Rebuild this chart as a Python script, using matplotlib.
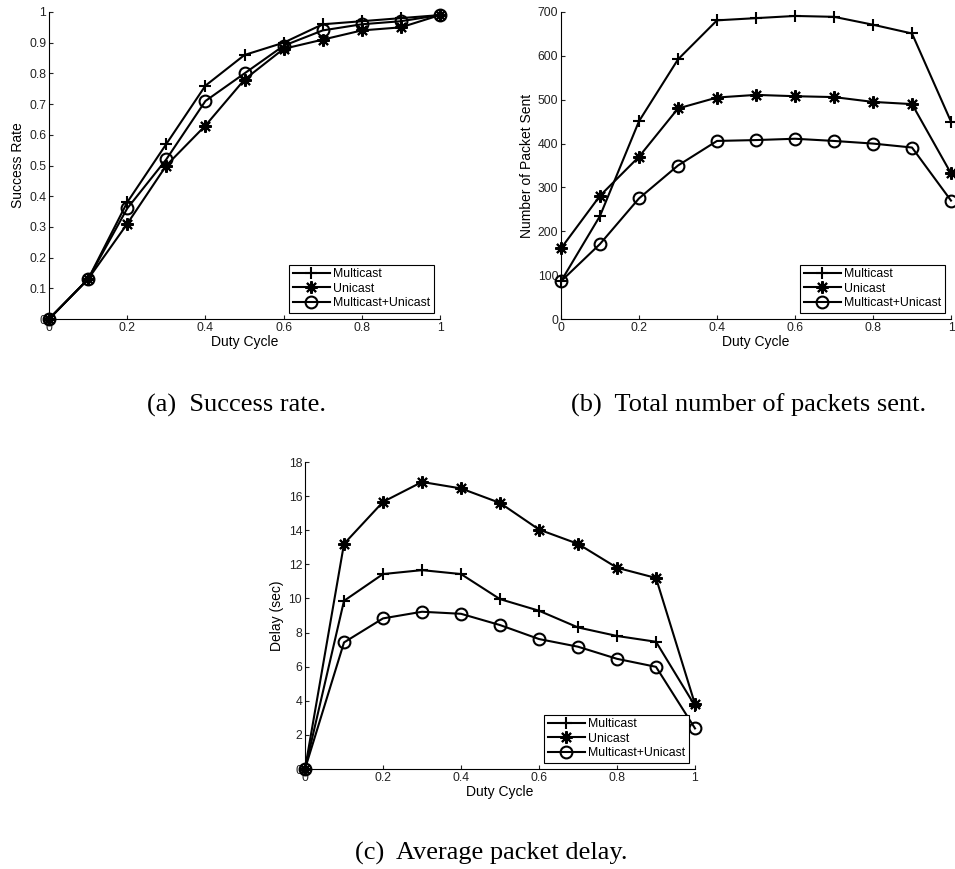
import numpy as np
from matplotlib import pyplot as plt

def plot_params():
    plt.rc('font', family='Liberation Sans', size=10)
    plt.rc('xtick', labelsize=8.8, direction='in')
    plt.rc('ytick', labelsize=8.8, direction='in')
    plt.rc('xtick.major', size=3, width=0.8)
    plt.rc('ytick.major', size=3, width=0.8)
    plt.rc('axes', labelsize=10, linewidth=0.8)
    plt.rc('legend', fontsize=8.8)
    plt.rc('lines', linewidth=1.5)
plot_params()

duty = [0, 0.1, 0.2, 0.3, 0.4, 0.5, 0.6, 0.7, 0.8, 0.9, 1.0]
labels = ['Multicast', 'Unicast', 'Multicast+Unicast']

# (a) success rate
rate_multi = [0, 0.13, 0.38, 0.57, 0.76, 0.86, 0.90, 0.96, 0.97, 0.98, 0.99]
rate_uni = [0, 0.13, 0.31, 0.50, 0.63, 0.78, 0.88, 0.91, 0.94, 0.95, 0.99]
rate_both = [0, 0.13, 0.36, 0.52, 0.71, 0.80, 0.89, 0.94, 0.96, 0.97, 0.99]

# (b) packets sent
sent_multi = [86, 235, 451, 592, 681, 686, 691, 689, 671, 651, 450]
sent_uni = [161, 281, 370, 480, 505, 511, 508, 506, 495, 490, 332]
sent_both = [86, 171, 275, 350, 406, 408, 411, 406, 400, 391, 270]

# (c) delay
delay_multi = [0, 9.86, 11.43, 11.66, 11.43, 9.96, 9.28, 8.3, 7.8, 7.46, 3.7]
delay_uni = [0, 13.2, 15.66, 16.83, 16.45, 15.6, 14.04, 13.2, 11.8, 11.2, 3.8]
delay_both = [0, 7.42, 8.83, 9.22, 9.1, 8.44, 7.62, 7.17, 6.46, 5.99, 2.38]

markers = ['+', (8, 2, 0), 'o']

W, H = 955, 869

def make_axes(fig, left, top, right, bottom):
    return fig.add_axes([left / W, 1 - bottom / H, (right - left) / W, (bottom - top) / H])

def draw(ax, series, ylabel, yticks, yticklabels):
    for ys, m, lab in zip(series, markers, labels):
        ax.plot(duty, ys, color='black', marker=m, markersize=9 if m != 'o' else 8.5,
                markerfacecolor='none', markeredgecolor='black', markeredgewidth=1.5,
                label=lab, clip_on=False, zorder=3)
    ax.spines['right'].set_visible(False)
    ax.spines['top'].set_visible(False)
    ax.set_xlim(0, 1)
    ax.set_ylim(yticks[0], yticks[-1])
    ax.set_xticks([0, 0.2, 0.4, 0.6, 0.8, 1.0])
    ax.set_xticklabels(['0', '0.2', '0.4', '0.6', '0.8', '1'])
    ax.set_yticks(yticks)
    ax.set_yticklabels(yticklabels)
    ax.tick_params(colors='#222222', pad=2)
    ax.set_xlabel('Duty Cycle', labelpad=1)
    ax.set_ylabel(ylabel, labelpad=3)
    leg = ax.legend(loc='lower right', bbox_to_anchor=(0.985, 0.02), borderaxespad=0,
                    fancybox=False, edgecolor='black', framealpha=1,
                    handlelength=3.0, handletextpad=0.3, labelspacing=0.2,
                    borderpad=0.3)
    leg.get_frame().set_linewidth(0.8)

fig = plt.figure(figsize=(9.55, 8.69), dpi=100)

ax_a = make_axes(fig, 49, 12, 440, 319)
ticks_a = [round(0.1 * i, 1) for i in range(11)]
draw(ax_a, [rate_multi, rate_uni, rate_both], 'Success Rate',
     ticks_a, ['0'] + [f'{t:g}' for t in ticks_a[1:-1]] + ['1'])

ax_b = make_axes(fig, 561, 12, 951, 319)
ticks_b = list(range(0, 701, 100))
draw(ax_b, [sent_multi, sent_uni, sent_both], 'Number of Packet Sent',
     ticks_b, [str(t) for t in ticks_b])

ax_c = make_axes(fig, 305, 462, 695, 769)
ticks_c = list(range(0, 19, 2))
draw(ax_c, [delay_multi, delay_uni, delay_both], 'Delay (sec)',
     ticks_c, [str(t) for t in ticks_c])

cap = dict(family='Liberation Serif', size=19, ha='left', va='baseline')
fig.text(147 / W, 1 - 412 / H, '(a)  Success rate.', **cap)
fig.text(571 / W, 1 - 412 / H, '(b)  Total number of packets sent.', **cap)
fig.text(355 / W, 1 - 860 / H, '(c)  Average packet delay.', **cap)

plt.savefig('out.png', dpi=100)
